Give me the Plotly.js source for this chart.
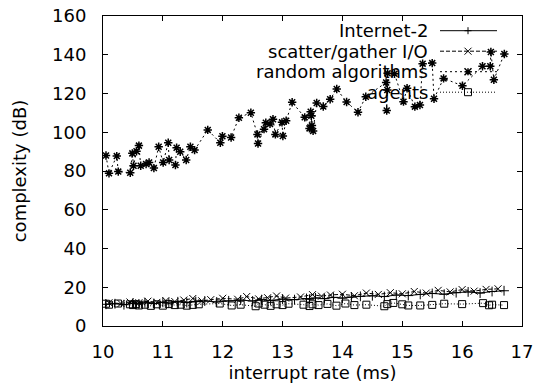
<!DOCTYPE html>
<html>
<head>
<meta charset="utf-8">
<script src="https://cdn.plot.ly/plotly-3.0.1.min.js"></script>
<style>html,body{margin:0;padding:0;background:#fff;}#chart{width:538px;height:389px;}</style>
</head>
<body>
<div id="chart"></div>
<script>
// ---- data ----
const seriesNames = ["Internet-2", "scatter/gather I/O", "random algorithms", "agents"];

const internetX = [10.05,10.2,10.35,10.5,10.6,10.7,10.85,11.0,11.1,11.25,11.4,11.55,11.7,11.9,12.1,12.3,12.5,12.65,12.8,13.0,13.2,13.4,13.45,13.55,13.7,13.85,14.0,14.15,14.3,14.5,14.7,14.9,15.1,15.3,15.5,15.7,15.9,16.1,16.3,16.5,16.7];
const internetY = [11.2,11.5,11.0,11.8,11.4,12.0,11.6,12.2,11.8,12.5,12.1,12.6,12.9,12.4,13.0,13.4,12.9,13.6,13.2,13.9,13.6,14.2,13.8,14.5,14.1,14.8,14.4,15.0,15.3,15.6,15.2,16.0,15.7,16.3,16.8,16.4,17.2,17.6,17.0,17.8,18.2];

const scatterX = [10.1,10.3,10.45,10.6,10.75,10.9,11.05,11.2,11.35,11.5,11.65,11.8,12.0,12.25,12.4,12.6,12.75,12.9,13.05,13.3,13.5,13.65,13.8,14.0,14.2,14.4,14.6,14.8,15.0,15.2,15.4,15.6,15.8,16.0,16.2,16.4,16.6];
const scatterY = [12.0,11.6,12.4,12.0,12.8,12.2,13.1,12.6,13.4,14.2,13.0,13.6,14.3,13.8,15.2,14.0,14.6,15.5,14.4,15.0,16.2,15.4,16.0,16.4,15.6,17.0,16.3,17.2,16.6,17.8,17.0,18.4,17.6,18.8,18.0,18.9,19.2];

const randomX = [10.05,10.10,10.23,10.255,10.455,10.49,10.51,10.56,10.60,10.63,10.72,10.77,10.85,10.93,11.005,11.09,11.105,11.21,11.23,11.29,11.39,11.46,11.53,11.75,11.96,11.995,12.14,12.27,12.47,12.58,12.59,12.69,12.72,12.79,12.84,12.88,12.99,13.005,13.06,13.16,13.37,13.45,13.47,13.48,13.49,13.51,13.57,13.68,13.795,13.905,14.07,14.26,14.39,14.73,14.74,14.75,14.755,14.87,15.02,15.08,15.21,15.295,15.34,15.50,15.53,15.69,16.005,16.34,16.47,16.48,16.53,16.705];
const randomY = [88.0,78.8,87.7,79.7,79.1,89.1,82.7,90.2,93.1,82.7,83.6,84.4,81.5,92.5,84.4,94.6,85.7,83.1,92.0,89.9,85.7,92.5,90.8,101.2,94.6,97.9,97.3,107.5,110.1,98.9,94.2,101.6,104.9,104.3,106.7,98.9,105.1,98.1,105.9,115.5,107.7,102.0,110.6,108.5,103.5,100.7,115.1,113.3,117.0,122.3,115.6,110.3,118.3,125.7,111.2,121.8,130.4,130.2,115.8,122.7,113.2,114.1,135.4,135.7,117.3,127.8,124.0,134.1,134.1,141.4,127.1,140.4];

const agentsX = [10.05,10.1,10.25,10.45,10.5,10.55,10.6,10.7,10.8,10.9,11.0,11.1,11.2,11.3,11.4,11.5,11.6,11.95,12.15,12.3,12.55,12.6,12.7,12.8,12.9,13.0,13.1,13.35,13.45,13.5,13.6,13.75,13.9,14.05,14.2,14.4,14.7,14.75,14.85,15.0,15.1,15.3,15.5,15.7,16.0,16.35,16.45,16.5,16.7];
const agentsY = [11.5,11.0,11.6,11.2,10.8,11.3,10.6,11.0,10.4,11.2,10.5,11.3,10.8,11.0,10.5,10.9,11.2,11.6,10.6,11.0,10.2,11.6,11.0,10.4,11.2,10.8,11.5,11.0,10.3,11.2,10.8,11.4,10.5,11.6,10.8,11.0,10.2,11.3,11.9,11.2,10.6,10.6,10.9,11.5,11.3,11.8,10.7,11.0,10.8];

const xTickVals = [10,11,12,13,14,15,16,17];
const yTickVals = [0,20,40,60,80,100,120,140,160];

// ---- styles ----
const FONT = "DejaVu Sans, Liberation Sans, Arial, sans-serif";
const FS = 18;
const styles = [
  {dash: "solid",     symbol: "cross-thin-open",  lw: 1},
  {dash: "4px,2px",   symbol: "x-thin-open",      lw: 1},
  {dash: "2px,3px",   symbol: "asterisk-open",    lw: 1.5},
  {dash: "1px,2px",   symbol: "square-open",      lw: 1}
];
const xs = [internetX, scatterX, randomX, agentsX];
const ys = [internetY, scatterY, randomY, agentsY];

const traces = seriesNames.map((n, i) => ({
  type: "scatter", mode: "lines+markers", name: n,
  x: xs[i], y: ys[i],
  line: {color: "black", width: 1, dash: styles[i].dash},
  marker: {symbol: styles[i].symbol, size: 7, color: "black", line: {color: "black", width: styles[i].lw}},
  showlegend: false
}));

// plot area in px
const W = 538, H = 389, L = 103, R = 16, T = 16, B = 63;
const pw = W - L - R, ph = H - T - B;
const px = v => (v - L) / pw;
const py = v => (H - B - v) / ph;

// custom gnuplot-like key (text right, sample to the right)
const keyTextRight = 430, keyLineX0 = 440, keyLineX1 = 497, keyMarkX = 468;
const keyRowsY = [30.7, 51.2, 71.7, 92.2];
const annotations = [], shapes = [];
const s = 3.5;
const markerPaths = [
  `M${-s},0 L${s},0 M0,${-s} L0,${s}`,
  `M${-s},${-s} L${s},${s} M${-s},${s} L${s},${-s}`,
  `M${-s},0 L${s},0 M0,${-s} L0,${s} M${-s},${-s} L${s},${s} M${-s},${s} L${s},${-s}`,
  `M${-s},${-s} L${s},${-s} L${s},${s} L${-s},${s} Z`
];
seriesNames.forEach((n, i) => {
  annotations.push({xref: "paper", yref: "paper", x: px(keyTextRight), y: py(keyRowsY[i]),
    xanchor: "right", yanchor: "middle", text: n, showarrow: false,
    font: {family: FONT, size: FS, color: "black"}, bgcolor: "rgba(0,0,0,0)"});
  shapes.push({type: "line", xref: "paper", yref: "paper",
    x0: px(keyLineX0), x1: px(keyLineX1), y0: py(keyRowsY[i]), y1: py(keyRowsY[i]),
    line: {color: "black", width: 1, dash: styles[i].dash}});
  shapes.push({type: "path", xref: "paper", yref: "paper",
    xsizemode: "pixel", ysizemode: "pixel", xanchor: px(keyMarkX), yanchor: py(keyRowsY[i]),
    path: markerPaths[i], line: {color: "black", width: styles[i].lw}, fillcolor: "rgba(0,0,0,0)"});
});

const axisCommon = {
  showline: true, linecolor: "black", linewidth: 1, mirror: "ticks",
  ticks: "inside", ticklen: 5, tickwidth: 1, tickcolor: "black",
  showgrid: false, zeroline: false,
  tickfont: {family: FONT, size: FS, color: "black"}
};

const layout = {
  width: W, height: H,
  margin: {l: L, r: R, t: T, b: B, pad: 0},
  paper_bgcolor: "white", plot_bgcolor: "white",
  font: {family: FONT, size: FS, color: "black"},
  xaxis: Object.assign({}, axisCommon, {
    range: [10, 17], tickvals: xTickVals, ticktext: xTickVals.map(String),
    ticklabelstandoff: 9,
    title: {text: "interrupt rate (ms)", font: {family: FONT, size: FS}, standoff: 1}
  }),
  yaxis: Object.assign({}, axisCommon, {
    range: [0, 160], tickvals: yTickVals, ticktext: yTickVals.map(String),
    ticklabelstandoff: 12,
    title: {text: "complexity (dB)", font: {family: FONT, size: FS}, standoff: 20}
  }),
  annotations: annotations,
  shapes: shapes,
  showlegend: false
};

Plotly.newPlot("chart", traces, layout, {displayModeBar: false, staticPlot: true});
</script>
</body>
</html>
